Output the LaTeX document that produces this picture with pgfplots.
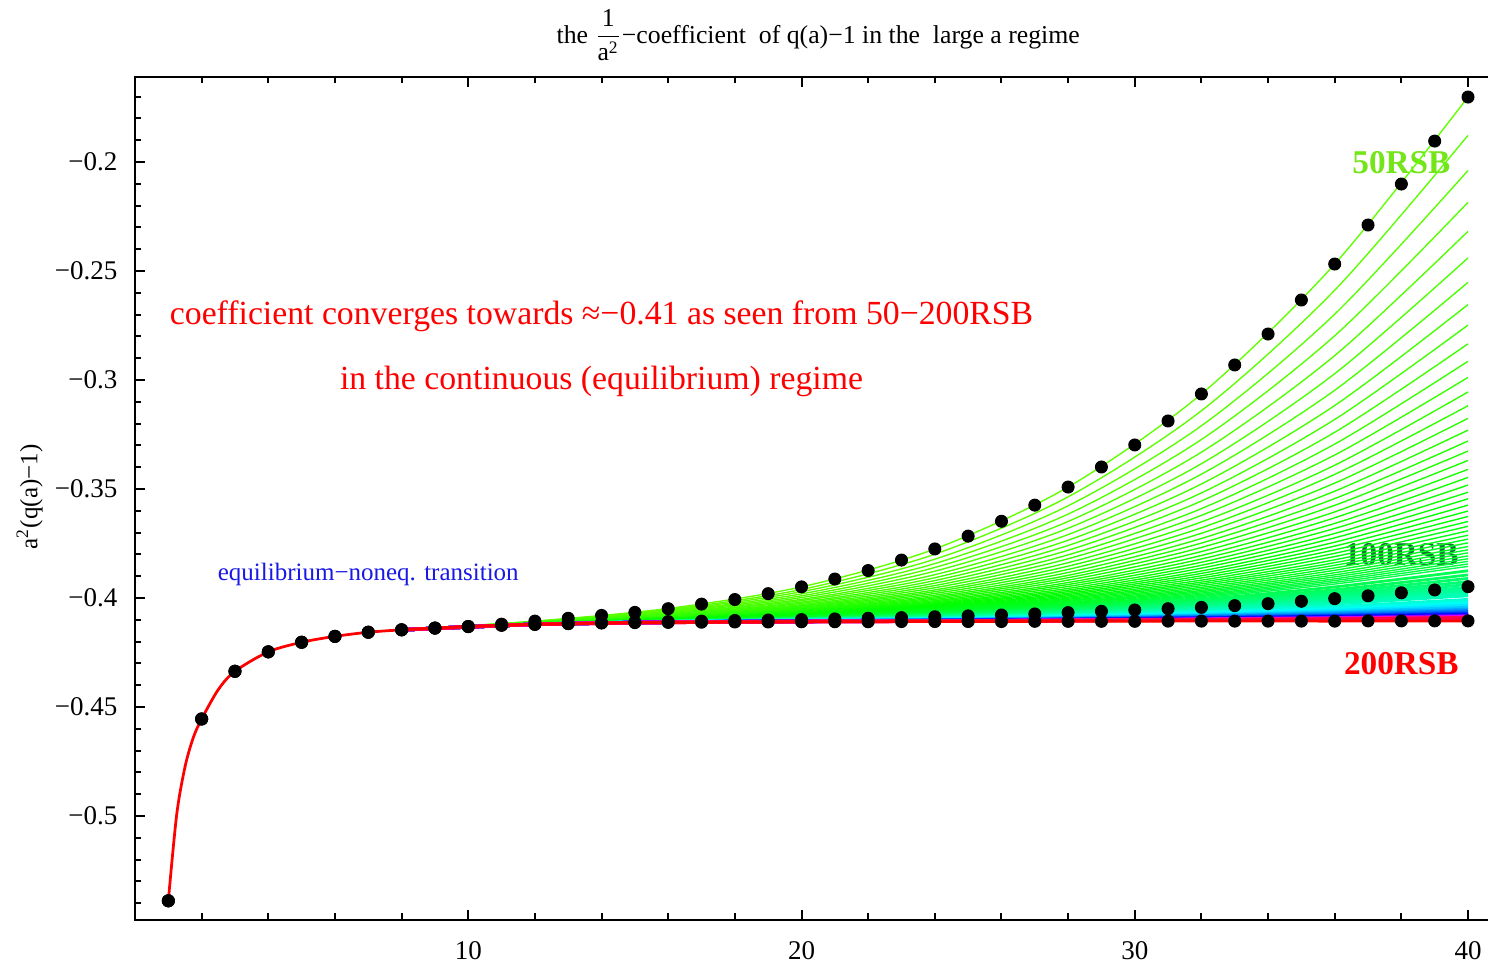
\documentclass[border=0pt]{standalone}
\usepackage{fontspec}
\setmainfont{Liberation Serif}
\usepackage[rgb]{xcolor}
\usepackage{pgfplots}
\usepackage{pgfplotstable}
\pgfplotsset{compat=1.18}

% hue of the k-RSB curves: green (50) -> cyan -> blue -> magenta -> red (200)
\foreach \n in {50,...,200}{%
  \pgfmathsetmacro\h{\n<85.5 ? 0.27+0.09*(\n-50)/35 : (\n<122.5 ? 0.36+0.14*(\n-85)/37 : (\n<160.5 ? 0.5+0.167*(\n-122)/38 : 0.667+0.333*(\n-160)/40))}%
  \edef\tmp{\noexpand\definecolor{tmphue}{hsb}{\h,1,1}}\tmp
  \xglobal\colorlet{L\n}[rgb]{tmphue}%
}
\definecolor{labgreen}{rgb}{0.45,0.9,0.1}
\definecolor{labdark}{rgb}{0.08,0.45,0.2}
\definecolor{txtblue}{rgb}{0.1,0.1,0.9}
\definecolor{txtred}{rgb}{1,0,0}

% continuous limit (200RSB), dense near a = 1
\pgfplotstableread{
x y
1 -0.5389
1.25 -0.4995
1.5 -0.4775
1.75 -0.4640
2 -0.4555
2.5 -0.4420
3 -0.4336
4 -0.4247
5 -0.4203
6 -0.4176
7 -0.4157
8 -0.4146
9 -0.4138
10 -0.4131
11 -0.4125
12 -0.4121
13 -0.4118
14 -0.4115
15 -0.4113
16 -0.4112
17 -0.4111
18 -0.4110
19 -0.4110
20 -0.4109
21 -0.4109
22 -0.4109
23 -0.4108
24 -0.4108
25 -0.4108
26 -0.4108
27 -0.4107
28 -0.4107
29 -0.4107
30 -0.4107
31 -0.4106
32 -0.4106
33 -0.4106
34 -0.4106
35 -0.4106
36 -0.4106
37 -0.4105
38 -0.4105
39 -0.4105
40 -0.4105
}\redline

% computed points: 200RSB, 100RSB, 50RSB
\pgfplotstableread{
x y200 y100 y50
1 -0.5389 -0.5389 -0.5389
2 -0.4555 -0.4555 -0.4555
3 -0.4336 -0.4336 -0.4336
4 -0.4247 -0.4247 -0.4247
5 -0.4203 -0.4203 -0.4203
6 -0.4176 -0.4176 -0.4176
7 -0.4157 -0.4157 -0.4157
8 -0.4146 -0.4146 -0.4146
9 -0.4138 -0.4138 -0.4138
10 -0.4131 -0.4131 -0.4131
11 -0.4125 -0.4125 -0.4120
12 -0.4121 -0.4121 -0.4106
13 -0.4118 -0.4117 -0.4093
14 -0.4115 -0.4113 -0.4080
15 -0.4113 -0.4110 -0.4066
16 -0.4112 -0.4108 -0.4049
17 -0.4111 -0.4106 -0.4028
18 -0.4110 -0.4103 -0.4007
19 -0.4110 -0.4101 -0.3980
20 -0.4109 -0.4099 -0.3949
21 -0.4109 -0.4096 -0.3913
22 -0.4109 -0.4093 -0.3874
23 -0.4108 -0.4090 -0.3826
24 -0.4108 -0.4086 -0.3775
25 -0.4108 -0.4082 -0.3716
26 -0.4108 -0.4078 -0.3648
27 -0.4107 -0.4073 -0.3574
28 -0.4107 -0.4067 -0.3491
29 -0.4107 -0.4061 -0.3399
30 -0.4107 -0.4055 -0.3298
31 -0.4106 -0.4049 -0.3188
32 -0.4106 -0.4043 -0.3064
33 -0.4106 -0.4035 -0.2931
34 -0.4106 -0.4026 -0.2789
35 -0.4106 -0.4015 -0.2633
36 -0.4106 -0.4003 -0.2468
37 -0.4105 -0.3990 -0.2289
38 -0.4105 -0.3976 -0.2101
39 -0.4105 -0.3963 -0.1904
40 -0.4105 -0.3948 -0.1702
}\points

% one row per k-RSB curve, values at a = 8, 12, ..., 40
\pgfplotstableread{
line 8 12 16 20 24 28 32 36 40
n50 -0.4146 -0.4106 -0.4048 -0.3949 -0.3775 -0.3491 -0.3064 -0.2468 -0.1702
n51 -0.4146 -0.4107 -0.4053 -0.3961 -0.3799 -0.3536 -0.3141 -0.2588 -0.1878
n52 -0.4146 -0.4108 -0.4057 -0.3971 -0.3822 -0.3577 -0.3210 -0.2698 -0.2039
n53 -0.4146 -0.4109 -0.4061 -0.3981 -0.3842 -0.3615 -0.3273 -0.2797 -0.2185
n54 -0.4146 -0.4110 -0.4064 -0.3990 -0.3860 -0.3649 -0.3331 -0.2888 -0.2318
n55 -0.4146 -0.4111 -0.4068 -0.3998 -0.3877 -0.3680 -0.3384 -0.2971 -0.2440
n56 -0.4146 -0.4111 -0.4071 -0.4006 -0.3893 -0.3709 -0.3432 -0.3047 -0.2552
n57 -0.4146 -0.4112 -0.4073 -0.4012 -0.3907 -0.3735 -0.3477 -0.3117 -0.2654
n58 -0.4146 -0.4112 -0.4076 -0.4019 -0.3920 -0.3759 -0.3518 -0.3181 -0.2748
n59 -0.4146 -0.4113 -0.4078 -0.4024 -0.3932 -0.3781 -0.3555 -0.3240 -0.2834
n60 -0.4146 -0.4114 -0.4080 -0.4030 -0.3943 -0.3802 -0.3590 -0.3294 -0.2914
n61 -0.4146 -0.4114 -0.4082 -0.4035 -0.3953 -0.3820 -0.3621 -0.3344 -0.2988
n62 -0.4146 -0.4114 -0.4084 -0.4039 -0.3963 -0.3838 -0.3651 -0.3391 -0.3055
n63 -0.4146 -0.4115 -0.4086 -0.4043 -0.3971 -0.3854 -0.3678 -0.3433 -0.3118
n64 -0.4146 -0.4115 -0.4087 -0.4047 -0.3979 -0.3869 -0.3703 -0.3473 -0.3176
n65 -0.4146 -0.4116 -0.4089 -0.4051 -0.3987 -0.3883 -0.3727 -0.3510 -0.3230
n66 -0.4146 -0.4116 -0.4090 -0.4054 -0.3994 -0.3896 -0.3748 -0.3544 -0.3280
n67 -0.4146 -0.4116 -0.4091 -0.4057 -0.4000 -0.3907 -0.3768 -0.3575 -0.3326
n68 -0.4146 -0.4116 -0.4092 -0.4060 -0.4006 -0.3918 -0.3787 -0.3605 -0.3369
n69 -0.4146 -0.4117 -0.4094 -0.4063 -0.4012 -0.3929 -0.3805 -0.3632 -0.3410
n70 -0.4146 -0.4117 -0.4095 -0.4065 -0.4017 -0.3938 -0.3821 -0.3658 -0.3447
n71 -0.4146 -0.4117 -0.4095 -0.4067 -0.4022 -0.3947 -0.3836 -0.3681 -0.3482
n72 -0.4146 -0.4117 -0.4096 -0.4070 -0.4026 -0.3956 -0.3850 -0.3704 -0.3515
n73 -0.4146 -0.4118 -0.4097 -0.4072 -0.4030 -0.3964 -0.3863 -0.3724 -0.3545
n74 -0.4146 -0.4118 -0.4098 -0.4074 -0.4034 -0.3971 -0.3876 -0.3744 -0.3574
n75 -0.4146 -0.4118 -0.4099 -0.4075 -0.4038 -0.3978 -0.3887 -0.3762 -0.3601
n76 -0.4146 -0.4118 -0.4099 -0.4077 -0.4042 -0.3984 -0.3898 -0.3779 -0.3626
n77 -0.4146 -0.4118 -0.4100 -0.4079 -0.4045 -0.3990 -0.3908 -0.3795 -0.3649
n78 -0.4146 -0.4118 -0.4100 -0.4080 -0.4048 -0.3996 -0.3918 -0.3810 -0.3671
n79 -0.4146 -0.4118 -0.4101 -0.4082 -0.4051 -0.4001 -0.3927 -0.3825 -0.3692
n80 -0.4146 -0.4119 -0.4102 -0.4083 -0.4054 -0.4006 -0.3935 -0.3838 -0.3712
n81 -0.4146 -0.4119 -0.4102 -0.4084 -0.4056 -0.4011 -0.3943 -0.3850 -0.3730
n82 -0.4146 -0.4119 -0.4103 -0.4085 -0.4058 -0.4015 -0.3951 -0.3862 -0.3747
n83 -0.4146 -0.4119 -0.4103 -0.4086 -0.4061 -0.4020 -0.3958 -0.3873 -0.3764
n84 -0.4146 -0.4119 -0.4103 -0.4087 -0.4063 -0.4023 -0.3965 -0.3884 -0.3779
n85 -0.4146 -0.4119 -0.4104 -0.4088 -0.4065 -0.4027 -0.3971 -0.3894 -0.3793
n86 -0.4146 -0.4119 -0.4104 -0.4089 -0.4067 -0.4031 -0.3977 -0.3903 -0.3807
n87 -0.4146 -0.4119 -0.4104 -0.4090 -0.4069 -0.4034 -0.3983 -0.3912 -0.3820
n88 -0.4146 -0.4119 -0.4105 -0.4091 -0.4070 -0.4037 -0.3988 -0.3920 -0.3832
n89 -0.4146 -0.4119 -0.4105 -0.4092 -0.4072 -0.4040 -0.3993 -0.3928 -0.3844
n90 -0.4146 -0.4119 -0.4105 -0.4092 -0.4073 -0.4043 -0.3998 -0.3936 -0.3855
n92 -0.4146 -0.4120 -0.4106 -0.4094 -0.4076 -0.4048 -0.4006 -0.3949 -0.3875
n94 -0.4146 -0.4120 -0.4106 -0.4095 -0.4079 -0.4053 -0.4014 -0.3962 -0.3894
n96 -0.4146 -0.4120 -0.4107 -0.4096 -0.4081 -0.4057 -0.4021 -0.3973 -0.3910
n98 -0.4146 -0.4120 -0.4107 -0.4097 -0.4083 -0.4061 -0.4028 -0.3983 -0.3925
n100 -0.4146 -0.4120 -0.4108 -0.4098 -0.4085 -0.4064 -0.4034 -0.3992 -0.3938
n102 -0.4146 -0.4120 -0.4108 -0.4099 -0.4087 -0.4067 -0.4039 -0.4001 -0.3951
n104 -0.4146 -0.4120 -0.4108 -0.4100 -0.4088 -0.4070 -0.4044 -0.4008 -0.3962
n106 -0.4146 -0.4120 -0.4109 -0.4100 -0.4090 -0.4073 -0.4048 -0.4015 -0.3972
n108 -0.4146 -0.4120 -0.4109 -0.4101 -0.4091 -0.4075 -0.4052 -0.4022 -0.3981
n110 -0.4146 -0.4120 -0.4109 -0.4101 -0.4092 -0.4077 -0.4056 -0.4027 -0.3990
n115 -0.4146 -0.4120 -0.4109 -0.4102 -0.4094 -0.4082 -0.4064 -0.4040 -0.4008
n120 -0.4146 -0.4121 -0.4110 -0.4104 -0.4097 -0.4086 -0.4070 -0.4050 -0.4022
n125 -0.4146 -0.4121 -0.4110 -0.4104 -0.4098 -0.4089 -0.4075 -0.4058 -0.4034
n130 -0.4146 -0.4121 -0.4110 -0.4105 -0.4100 -0.4091 -0.4080 -0.4065 -0.4044
n135 -0.4146 -0.4121 -0.4111 -0.4106 -0.4101 -0.4094 -0.4083 -0.4070 -0.4053
n140 -0.4146 -0.4121 -0.4111 -0.4106 -0.4102 -0.4095 -0.4086 -0.4075 -0.4059
n145 -0.4146 -0.4121 -0.4111 -0.4106 -0.4103 -0.4097 -0.4089 -0.4079 -0.4065
n150 -0.4146 -0.4121 -0.4111 -0.4107 -0.4103 -0.4098 -0.4091 -0.4082 -0.4070
n155 -0.4146 -0.4121 -0.4111 -0.4107 -0.4104 -0.4099 -0.4093 -0.4085 -0.4074
n160 -0.4146 -0.4121 -0.4111 -0.4107 -0.4104 -0.4100 -0.4094 -0.4087 -0.4078
n165 -0.4146 -0.4121 -0.4111 -0.4107 -0.4105 -0.4101 -0.4096 -0.4090 -0.4081
n170 -0.4146 -0.4121 -0.4111 -0.4108 -0.4105 -0.4102 -0.4097 -0.4091 -0.4083
n175 -0.4146 -0.4121 -0.4111 -0.4108 -0.4105 -0.4102 -0.4098 -0.4093 -0.4086
n180 -0.4146 -0.4121 -0.4111 -0.4108 -0.4106 -0.4103 -0.4099 -0.4094 -0.4088
n185 -0.4146 -0.4121 -0.4112 -0.4108 -0.4106 -0.4103 -0.4099 -0.4095 -0.4089
n190 -0.4146 -0.4121 -0.4112 -0.4108 -0.4106 -0.4103 -0.4100 -0.4096 -0.4091
n195 -0.4146 -0.4121 -0.4112 -0.4108 -0.4106 -0.4104 -0.4101 -0.4097 -0.4092
}\famraw
\pgfplotstabletranspose[colnames from=line]{\fam}{\famraw}

\begin{document}
\begin{tikzpicture}
\begin{axis}[
  scale only axis,
  width=543.2pt, height=337.2pt,
  xmin=0, xmax=40.75, ymin=-0.5477, ymax=-0.161,
  clip=false,
  xtick={10,20,30,40},
  xticklabels={10,20,30,40},
  minor xtick={2,4,6,8,12,14,16,18,22,24,26,28,32,34,36,38},
  ytick={-0.5,-0.45,-0.4,-0.35,-0.3,-0.25,-0.2},
  yticklabels={−0.5,−0.45,−0.4,−0.35,−0.3,−0.25,−0.2},
  minor ytick={-0.54,-0.53,-0.52,-0.51,-0.49,-0.48,-0.47,-0.46,-0.44,-0.43,-0.42,-0.41,-0.39,-0.38,-0.37,-0.36,-0.34,-0.33,-0.32,-0.31,-0.29,-0.28,-0.27,-0.26,-0.24,-0.23,-0.22,-0.21,-0.19,-0.18,-0.17},
  ytick pos=left,
  tick align=inside,
  major tick length=4pt, minor tick length=2.6pt,
  every tick/.style={black, line width=0.8pt},
  axis line style={line width=1pt},
  ticklabel style={font=\fontsize{10.8}{13}\selectfont},
  yticklabel style={xshift=-3.5pt},
  xticklabel style={yshift=-5pt},
  ylabel={a\textsuperscript{2}(q(a)−1)},
  ylabel style={at={(axis description cs:-0.0776,0.502)}, anchor=center, font=\fontsize{10}{12}\selectfont},
  fam/.style={no markers, smooth, line width=0.55pt},
]
% labels sitting underneath the curves
\node[font=\bfseries\fontsize{13.3}{15}\selectfont, text=labgreen] at (axis cs:38,-0.2005) {50RSB};
\node[font=\bfseries\fontsize{13.3}{15}\selectfont, text=labdark] at (axis cs:38,-0.3803) {100RSB};

% family of k-RSB curves
\pgfplotsinvokeforeach{50,...,90}{
  \addplot[fam, draw=L#1] table[x=colnames, y=n#1] {\fam};
}
\pgfplotsinvokeforeach{92,94,...,110}{
  \addplot[fam, draw=L#1, line width=1.1pt] table[x=colnames, y=n#1] {\fam};
}
\pgfplotsinvokeforeach{115,120,...,195}{
  \addplot[fam, draw=L#1, line width=1.4pt] table[x=colnames, y=n#1] {\fam};
}
\addplot[no markers, smooth, red, line width=1.1pt] table[x=x, y=y] {\redline};

% computed points
\addplot[only marks, mark=*, mark size=2.4pt, black] table[x=x, y=y200] {\points};
\addplot[only marks, mark=*, mark size=2.4pt, black] table[x=x, y=y100] {\points};
\addplot[only marks, mark=*, mark size=2.4pt, black] table[x=x, y=y50] {\points};

\node[font=\bfseries\fontsize{13.3}{15}\selectfont, text=red] at (axis cs:38,-0.4303) {200RSB};
\node[font=\fontsize{13.5}{16}\selectfont, text=txtred] at (axis cs:14,-0.2706) {coefficient converges towards ≈−0.41 as seen from 50−200RSB};
\node[font=\fontsize{13.5}{16}\selectfont, text=txtred] at (axis cs:14,-0.3005) {in the continuous (equilibrium) regime};
\node[font=\fontsize{10}{12}\selectfont, text=txtblue] at (axis cs:7,-0.3894) {equilibrium−noneq. transition};

\node[font=\fontsize{10.3}{12}\selectfont, yshift=16.8pt] at (axis cs:20.5,-0.161)
  {the $\displaystyle\frac{\mbox{1}}{\mbox{a}^{\mbox{\fontsize{7}{8}\selectfont 2}}}$−coefficient\ \ of q(a)−1 in the\ \ large a regime};
\end{axis}
\pgfresetboundingbox
\path[use as bounding box] ([shift={(-54pt,-17.2pt)}]current axis.south west) rectangle ([shift={(-2pt,30.8pt)}]current axis.north east);
\end{tikzpicture}
\end{document}
